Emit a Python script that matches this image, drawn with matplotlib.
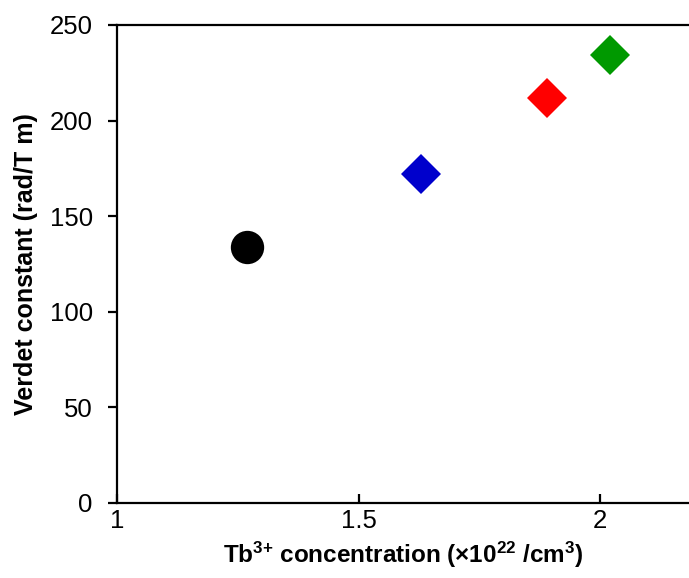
import matplotlib
matplotlib.use("Agg")
import matplotlib.pyplot as plt

# Tb3+ concentration (x10^22 /cm3) vs Verdet constant (rad/T m)
tb_conc = [1.27, 1.63, 1.89, 2.02]
verdet = [134, 172, 212, 234.5]
colors = ['#000000', '#0000cc', '#ff0000', '#009900']
markers = ['o', 'D', 'D', 'D']
marker_sizes = [24, 20, 20, 20]

x_ticks = [1, 1.5, 2]
y_ticks = [0, 50, 100, 150, 200, 250]

plt.rcParams['font.family'] = ['Liberation Sans', 'DejaVu Sans']
plt.rcParams['mathtext.fontset'] = 'custom'
plt.rcParams['mathtext.rm'] = 'Liberation Sans:bold'
plt.rcParams['mathtext.default'] = 'rm'

fig = plt.figure(figsize=(6.89, 5.78), dpi=100)
ax = fig.add_axes([117 / 689, 75 / 578, 1 - 117 / 689, 478 / 578])

for x, y, c, m, s in zip(tb_conc, verdet, colors, markers, marker_sizes):
    ax.plot(x, y, marker=m, color=c, markersize=s, linestyle='none', markeredgewidth=0)

ax.set_xlim(1, 2.184)
ax.set_ylim(0, 250)
ax.set_xticks(x_ticks)
ax.set_xticklabels(['1', '1.5', '2'])
ax.set_yticks(y_ticks)

ax.spines['right'].set_visible(False)
for side in ['left', 'bottom', 'top']:
    ax.spines[side].set_linewidth(1.6)

ax.tick_params(axis='y', direction='out', length=6.5, width=1.6, labelsize=18.5, pad=11)
ax.tick_params(axis='x', direction='in', length=6.5, width=1.6, labelsize=18.5, pad=4)

ax.set_xlabel(r'Tb$^{3{+}}$ concentration (×10$^{22}$ /cm$^{3}$)', fontsize=17.5,
              fontweight='bold', labelpad=5)
ax.set_ylabel('Verdet constant (rad/T m)', fontsize=18, fontweight='bold', labelpad=8)

fig.savefig('out.png', dpi=100)
